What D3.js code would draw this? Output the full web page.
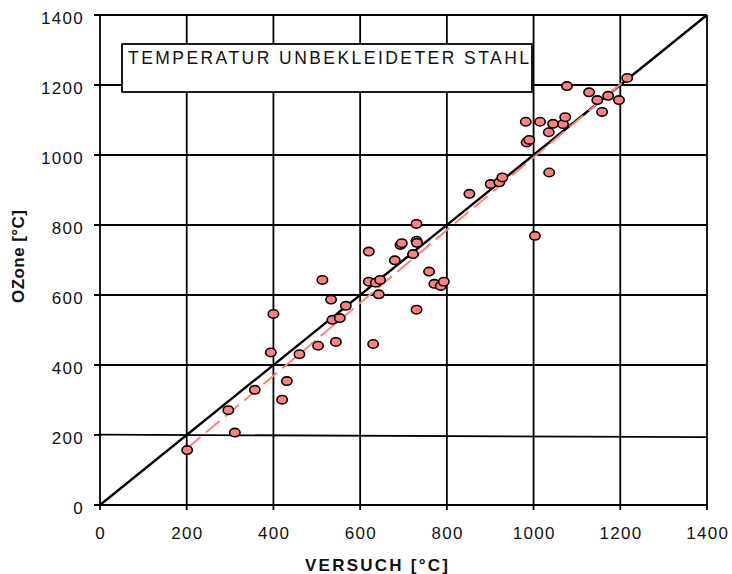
<!DOCTYPE html>
<html>
<head>
<meta charset="utf-8">
<script src="https://cdn.jsdelivr.net/npm/d3@7"></script>
<style>
  html, body { margin: 0; padding: 0; background: #fff; }
  svg { display: block; }
</style>
</head>
<body>
<svg id="chart" width="732" height="574"></svg>
<script>
// ---- data ----
const versuch = [201, 296, 311, 357, 394, 400, 420, 431, 460, 503, 513, 533, 536, 544, 553, 567,
  620, 620, 630, 636, 643, 646, 680, 693, 696, 722, 730, 730, 731, 730, 759, 771, 786, 793,
  852, 901, 921, 928, 982, 984, 990, 1003, 1015, 1035, 1036, 1045, 1068, 1073, 1077, 1128,
  1147, 1158, 1172, 1197, 1216];
const ozone = [157, 271, 207, 329, 436, 546, 301, 354, 431, 455, 643, 587, 529, 466, 534, 569,
  724, 638, 460, 635, 602, 643, 699, 743, 748, 717, 803, 755, 749, 558, 667, 632, 626, 638,
  889, 917, 922, 936, 1095, 1036, 1043, 769, 1095, 1065, 950, 1089, 1088, 1108, 1197, 1179,
  1157, 1123, 1169, 1157, 1220];
const diagonal = [[0, 0], [1400, 1400]];
const trendLine = [[200, 161], [1215, 1217]];
const line200 = [[0, 201], [1400, 194]];
const xTicks = [0, 200, 400, 600, 800, 1000, 1200, 1400];
const yTicks = [0, 200, 400, 600, 800, 1000, 1200, 1400];
const boxTitle = "TEMPERATUR UNBEKLEIDETER STAHL";
const xTitle = "VERSUCH [°C]";
const yTitle = "OZone [°C]";

// ---- drawing ----
const svg = d3.select("#chart");
const font = "'Liberation Sans', Arial, sans-serif";
const x = d3.scaleLinear().domain([0, 1400]).range([100, 707]);
const y = d3.scaleLinear().domain([0, 1400]).range([505, 15]);
const line = d3.line().x(d => x(d[0])).y(d => y(d[1]));

const grid = svg.append("g").attr("stroke", "#000").attr("stroke-width", 1.8);
grid.selectAll("line.v").data(xTicks).join("line")
  .attr("x1", d => x(d)).attr("x2", d => x(d))
  .attr("y1", y(0) + 5).attr("y2", y(1400));
grid.selectAll("line.h").data(yTicks.filter(d => d !== 200)).join("line")
  .attr("x1", x(0) - 6).attr("x2", x(1400))
  .attr("y1", d => y(d)).attr("y2", d => y(d));
// left tick for 200
grid.append("line").attr("x1", x(0) - 6).attr("x2", x(0))
  .attr("y1", y(200)).attr("y2", y(200));

svg.append("path").datum(line200).attr("d", line)
  .attr("fill", "none").attr("stroke", "#000").attr("stroke-width", 1.8);

// y tick labels
svg.append("g").selectAll("text").data(yTicks).join("text")
  .attr("x", 84).attr("y", d => y(d) + 8.5)
  .attr("text-anchor", "end")
  .attr("font-family", font).attr("font-size", 17).attr("letter-spacing", 1.3)
  .attr("fill", "#111").text(d => d);
// x tick labels
svg.append("g").selectAll("text").data(xTicks).join("text")
  .attr("x", d => x(d) + 0.7).attr("y", y(0) + 34)
  .attr("text-anchor", "middle")
  .attr("font-family", font).attr("font-size", 17).attr("letter-spacing", 1.3)
  .attr("fill", "#111").text(d => d);

// title box
svg.append("rect").attr("x", 122).attr("y", 44).attr("width", 410).attr("height", 48)
  .attr("fill", "#fff").attr("stroke", "#000").attr("stroke-width", 1.8);
svg.append("text").attr("x", 128).attr("y", 64)
  .attr("font-family", font).attr("font-size", 17.5)
  .attr("textLength", 401).attr("lengthAdjust", "spacing")
  .attr("fill", "#111").text(boxTitle);

// diagonal & trend
svg.append("path").datum(diagonal).attr("d", line)
  .attr("fill", "none").attr("stroke", "#000").attr("stroke-width", 2.4);
svg.append("path").datum(trendLine).attr("d", line)
  .attr("fill", "none").attr("stroke", "#ff8080").attr("stroke-width", 2)
  .attr("stroke-dasharray", "18,7");

// points
svg.append("g").selectAll("ellipse").data(versuch).join("ellipse")
  .attr("cx", (d, i) => x(d)).attr("cy", (d, i) => y(ozone[i]))
  .attr("rx", 5.2).attr("ry", 4.2)
  .attr("fill", "#ff8080").attr("stroke", "#000").attr("stroke-width", 1.6);

// axis titles
svg.append("text").attr("x", 376.5).attr("y", 571)
  .attr("text-anchor", "middle")
  .attr("font-family", font).attr("font-size", 17).attr("font-weight", "bold")
  .attr("textLength", 143).attr("lengthAdjust", "spacing")
  .attr("fill", "#111").text(xTitle);
svg.append("text").attr("transform", "translate(24,256.5) rotate(-90)")
  .attr("text-anchor", "middle")
  .attr("font-family", font).attr("font-size", 17).attr("font-weight", "bold")
  .attr("textLength", 93).attr("lengthAdjust", "spacing")
  .attr("fill", "#111").text(yTitle);
</script>
</body>
</html>
